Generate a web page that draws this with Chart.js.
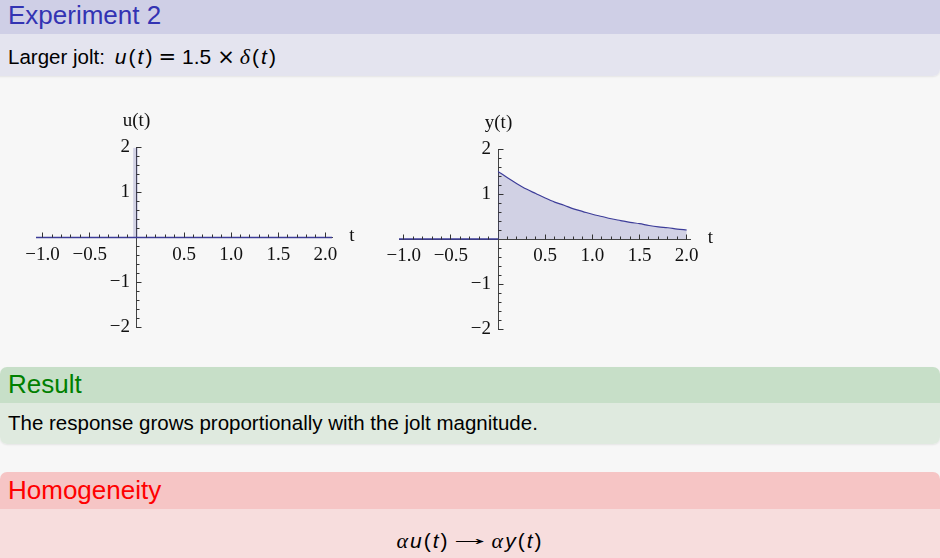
<!DOCTYPE html>
<html>
<head>
<meta charset="utf-8">
<script src="https://cdn.jsdelivr.net/npm/chart.js@4"></script>
<style>
  body { margin: 0; width: 940px; height: 558px; background: #f7f7f7; overflow: hidden; position: relative;
         font-family: "Liberation Sans", Arial, sans-serif; }
  .box { position: absolute; }
  .txt { position: absolute; left: 8px; line-height: 1; white-space: nowrap; }
  .ttl { font-size: 26px; }
  .bdy { font-size: 20.5px; color: #000; }
  .math { font-size: 21px; letter-spacing: 2px; }
  .m { font-style: italic; }
  .num { letter-spacing: 0; }
  .g { font-family: "Liberation Serif", serif; font-style: italic; font-size: 22px; }
  .op { font-family: "DejaVu Sans", sans-serif; font-size: 21px; letter-spacing: 0; }
  .arr { display: inline-block; width: 28px; text-align: center; letter-spacing: 0; position: relative; top: -3px; transform: scaleX(2.2); }
  canvas { position: absolute; top: 100px; }
</style>
</head>
<body>
<!-- Experiment 2 block -->
<div class="box" style="left:-10px; top:-10px; width:950px; height:86px; border-radius:7px; overflow:hidden; box-shadow:0 1px 2px rgba(0,0,0,0.08);">
  <div style="height:43.5px; background:#cfcfe6;"></div>
  <div style="height:42.5px; background:#e4e4ef;"></div>
</div>
<div class="txt ttl" style="top:2px; color:#3333b3;">Experiment 2</div>
<div class="txt bdy" style="top:46px;">Larger jolt:<span class="math" style="margin-left:10px;"><span class="m">u</span>(<span class="m">t</span>)<span class="op" style="margin:0 6px 0 4px;">=</span><span class="num">1.5</span><span class="op" style="margin:0 5px 0 6px;">×</span><span class="g">δ</span>(<span class="m">t</span>)</span></div>

<canvas id="uChart" width="370" height="250" style="left:0;"></canvas>
<canvas id="yChart" width="370" height="250" style="left:370px;"></canvas>

<!-- Result block -->
<div class="box" style="left:0; top:367px; width:940px; height:77px; border-radius:7px; overflow:hidden; box-shadow:0 1px 2px rgba(0,0,0,0.08);">
  <div style="height:36px; background:#c7dfc8;"></div>
  <div style="height:41px; background:#dfeadf;"></div>
</div>
<div class="txt ttl" style="top:371px; color:#008000;">Result</div>
<div class="txt bdy" style="top:413px;">The response grows proportionally with the jolt magnitude.</div>

<!-- Homogeneity block -->
<div class="box" style="left:0; top:472px; width:940px; height:100px; border-radius:7px; overflow:hidden;">
  <div style="height:37px; background:#f6c5c5;"></div>
  <div style="height:63px; background:#f7dddd;"></div>
</div>
<div class="txt ttl" style="top:477px; color:#ff0000;">Homogeneity</div>
<div class="txt bdy math" style="top:530px; left:0; width:940px; text-align:center;"><span class="g">α</span><span class="m">u</span>(<span class="m">t</span>)<span class="arr" style="margin:0 8px 0 6px;">→</span><span class="g">α</span><span class="m">y</span>(<span class="m">t</span>)</div>

<script>
// axis ticks
const xTickValues = [-1, -0.5, 0.5, 1, 1.5, 2];
const xTickLabels = ['−1.0', '−0.5', '0.5', '1.0', '1.5', '2.0'];
const yTickValues = [-2, -1, 1, 2];
const yTickLabels = ['−2', '−1', '1', '2'];

// input u(t) = 1.5 δ(t): zero line plus the spike at t = 0
const uTimes = [-1.07, 2.07];
const uValues = [0, 0];
const spikeTimes = [-0.04, -0.04, 0.012, 0.012];
const spikeValues = [0, 2, 2, 0];

// output y(t)
const yPreTimes = [-1.05, 0];
const yPreValues = [0, 0];
const yTimes = [0, 0.1, 0.2, 0.3, 0.4, 0.5, 0.6, 0.7, 0.8, 0.9, 1.0,
                1.1, 1.2, 1.3, 1.4, 1.5, 1.6, 1.7, 1.8, 1.9, 2.0];
const yValues = [1.50, 1.36, 1.23, 1.11, 1.01, 0.91, 0.82, 0.75, 0.67, 0.61, 0.55,
                 0.50, 0.45, 0.41, 0.37, 0.34, 0.30, 0.27, 0.25, 0.22, 0.20];

const lineColor = '#3d3d99';
const fillColor = 'rgba(61,61,153,0.2)';
const serif = '"Liberation Serif", "Times New Roman", serif';

function pts(xs, ys) {
    return xs.map((v, i) => ({ x: v, y: ys[i] }));
}

function align(p) {
    return Math.round(p - 0.5) + 0.5;
}

// minor/major tick marks and axis names, drawn on top of the plot
const axisDecor = {
    id: 'axisDecor',
    afterDatasetsDraw(chart, args, opts) {
        const { ctx, chartArea } = chart;
        const x = chart.scales.x, y = chart.scales.y;
        const x0 = align(x.getPixelForValue(0));
        const y0 = align(y.getPixelForValue(0));
        ctx.save();
        ctx.strokeStyle = '#333';
        ctx.lineWidth = 1;
        ctx.beginPath();
        for (let i = -10; i <= 20; i++) {
            if (i === 0) continue;
            const px = align(x.getPixelForValue(i / 10));
            const len = i % 5 === 0 ? 5 : 3;
            ctx.moveTo(px, y0);
            ctx.lineTo(px, y0 - len);
        }
        for (let j = -10; j <= 10; j++) {
            if (j === 0) continue;
            const py = align(y.getPixelForValue(j / 5));
            const len = j % 5 === 0 ? 5 : 3;
            ctx.moveTo(x0, py);
            ctx.lineTo(x0 + len, py);
        }
        ctx.stroke();
        ctx.fillStyle = '#111';
        ctx.font = '19px ' + serif;
        ctx.textAlign = 'center';
        ctx.textBaseline = 'middle';
        ctx.fillText(opts.yTitle, x0, chartArea.top - 26);
        ctx.fillText('t', chartArea.right + 20, y0 - 1);
        ctx.restore();
    }
};

const tickFont = { family: serif, size: 19 };

function makeChart(id, xMin, xMax, padding, datasets, yTitle) {
    const ctx = document.getElementById(id).getContext('2d');
    return new Chart(ctx, {
        type: 'line',
        data: { datasets: datasets },
        options: {
            responsive: false,
            animation: false,
            devicePixelRatio: 1,
            layout: { padding: padding },
            elements: { point: { radius: 0 } },
            plugins: {
                legend: { display: false },
                tooltip: { enabled: false },
                axisDecor: { yTitle: yTitle }
            },
            scales: {
                x: {
                    type: 'linear',
                    min: xMin,
                    max: xMax,
                    position: { y: 0 },
                    grid: { display: false, drawTicks: false },
                    border: { display: true, color: '#444', width: 1 },
                    afterBuildTicks: s => { s.ticks = xTickValues.map(v => ({ value: v })); },
                    ticks: {
                        autoSkip: false,
                        maxRotation: 0,
                        padding: 6,
                        color: '#111',
                        font: tickFont,
                        callback: (v, i) => xTickLabels[i]
                    }
                },
                // the axis line itself, through t = 0
                y: {
                    type: 'linear',
                    min: -2,
                    max: 2,
                    position: { x: 0 },
                    grid: { display: false, drawTicks: false },
                    border: { display: true, color: '#444', width: 1 },
                    ticks: { display: false }
                },
                // same range, only carries the labels a little left of the axis
                yl: {
                    axis: 'y',
                    type: 'linear',
                    min: -2,
                    max: 2,
                    position: { x: -0.074 },
                    grid: { display: false, drawTicks: false },
                    border: { display: false },
                    afterBuildTicks: s => { s.ticks = yTickValues.map(v => ({ value: v })); },
                    ticks: {
                        autoSkip: false,
                        color: '#111',
                        font: tickFont,
                        callback: (v, i) => yTickLabels[i]
                    }
                }
            }
        },
        plugins: [axisDecor]
    });
}

makeChart('uChart', -1.07, 2.07, { left: 36, right: 38, top: 47.5, bottom: 22.5 }, [
    {
        data: pts(spikeTimes, spikeValues),
        yAxisID: 'y',
        borderWidth: 0,
        backgroundColor: fillColor,
        fill: 'origin'
    },
    {
        data: pts(uTimes, uValues),
        yAxisID: 'y',
        borderColor: lineColor,
        borderWidth: 1.5,
        fill: false
    }
], 'u(t)');

makeChart('yChart', -1.05, 2.04, { left: 29, right: 49.5, top: 49, bottom: 21 }, [
    {
        data: pts(yPreTimes, yPreValues),
        yAxisID: 'y',
        borderColor: lineColor,
        borderWidth: 1.5,
        fill: false
    },
    {
        data: pts(yTimes, yValues),
        yAxisID: 'y',
        borderColor: lineColor,
        borderWidth: 1.2,
        backgroundColor: fillColor,
        cubicInterpolationMode: 'monotone',
        fill: 'origin'
    }
], 'y(t)');
</script>
</body>
</html>
